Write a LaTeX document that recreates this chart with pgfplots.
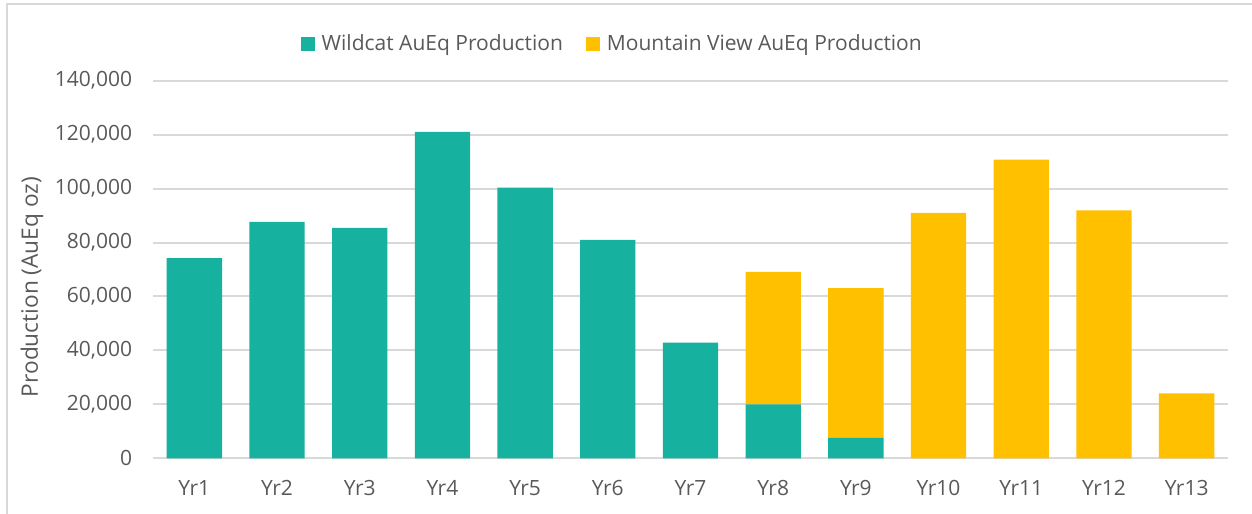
\documentclass[border=0pt]{standalone}
\usepackage{fontspec}
\setmainfont{Open Sans}
\usepackage{pgfplots}
\pgfplotsset{compat=1.18}
\definecolor{wcteal}{HTML}{17B1A0}
\definecolor{mvyellow}{HTML}{FFC000}
\definecolor{gridgray}{HTML}{D9D9D9}
\definecolor{txtgray}{HTML}{595959}
\begin{document}
\begin{tikzpicture}[x=0.6pt,y=0.6pt]
\useasboundingbox (0,0) rectangle (1252,514);
\draw[line width=1.2pt, gridgray] (7,-5) -- (7,510) -- (1260,510);
\node[rotate=90, text=txtgray, font=\fontsize{13.6}{16}\selectfont] at (32,227) {Production (AuEq oz)};
\begin{axis}[
  at={(91.8pt,33.42pt)}, anchor=south west,
  width=645pt, height=226.56pt, scale only axis,
  ybar stacked, bar width=33.2pt,
  xmin=-0.5, xmax=12.5, ymin=0, ymax=140000,
  xtick={0,...,12},
  xticklabels={Yr1,Yr2,Yr3,Yr4,Yr5,Yr6,Yr7,Yr8,Yr9,Yr10,Yr11,Yr12,Yr13},
  ytick={0,20000,40000,60000,80000,100000,120000,140000},
  scaled y ticks=false,
  /pgf/number format/.cd, fixed, 1000 sep={,}, assume math mode=true, /pgfplots/.cd,
  ymajorgrids, grid style={line width=1.2pt, gridgray},
  axis line style={draw=none},
  major tick length=0pt,
  tick label style={font=\fontsize{12.6}{14}\selectfont, text=txtgray},
  yticklabel style={xshift=-9pt},
  xticklabel style={yshift=-9.5pt},
  legend columns=2,
  legend style={draw=none, fill=none, at={(0.428,1.097)}, anchor=center,
    font=\fontsize{12.6}{15}\selectfont, text=txtgray,
    /tikz/every odd column/.append style={column sep=2pt},
    /tikz/every even column/.append style={column sep=12pt}},
  legend image code/.code={\fill[#1] (0pt,-4.2pt) rectangle (8.4pt,4.2pt);},
]
\addplot[fill=wcteal, draw=none] coordinates {(0,74200) (1,87700) (2,85400) (3,121000) (4,100400) (5,81000) (6,42900) (7,20000) (8,7600) (9,0) (10,0) (11,0) (12,0)};
\addplot[fill=mvyellow, draw=none] coordinates {(0,0) (1,0) (2,0) (3,0) (4,0) (5,0) (6,0) (7,49100) (8,55500) (9,91000) (10,110700) (11,91900) (12,24100)};
\legend{Wildcat AuEq Production, Mountain View AuEq Production}
\end{axis}
\end{tikzpicture}
\end{document}
